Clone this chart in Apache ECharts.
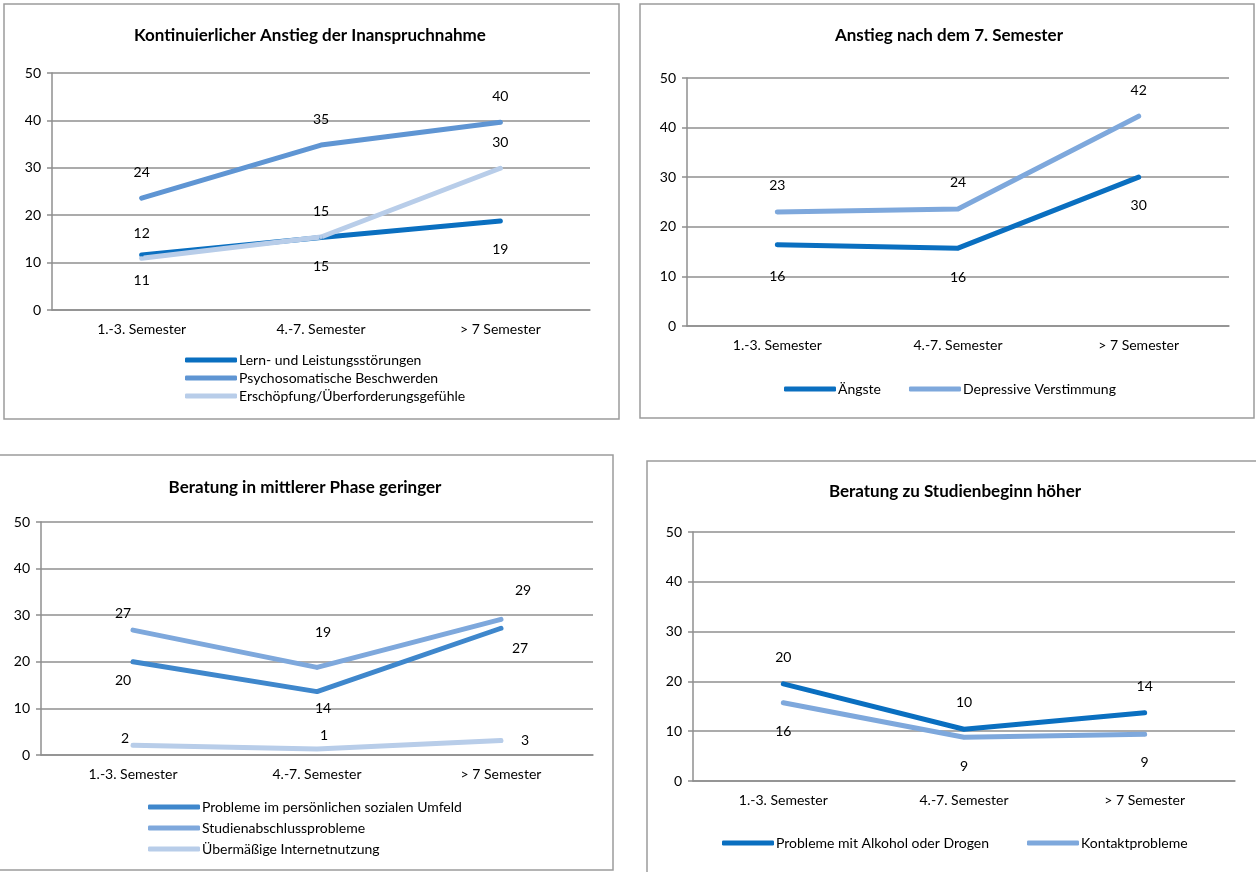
<!DOCTYPE html>
<html>
<head>
    <meta charset="utf-8">
    <script src="https://cdn.jsdelivr.net/npm/echarts@6/dist/echarts.min.js"></script>
    <title>Inanspruchnahme nach Semester</title>
    <style>
        body { margin: 0; background: #fff; }
    </style>
</head>
<body>
    <div id="main" style="width:1256px;height:872px;"></div>
    <script type="text/javascript">
        // categories + values
        var semesters = ['1.-3. Semester', '4.-7. Semester', '> 7 Semester'];

        var lernStoerungen = [11.6, 15.3, 18.8];
        var psychosomatik = [23.6, 34.8, 39.6];
        var erschoepfung = [10.9, 15.4, 29.9];

        var aengste = [16.4, 15.7, 30.0];
        var depressiv = [23.0, 23.6, 42.3];

        var sozialesUmfeld = [20.0, 13.6, 27.2];
        var studienabschluss = [26.8, 18.8, 29.1];
        var internetnutzung = [2.1, 1.3, 3.1];

        var alkoholDrogen = [19.5, 10.4, 13.7];
        var kontaktprobleme = [15.7, 8.8, 9.4];

        var FONT = 'Lato';
        var GRID_COLOR = '#8f8f8f';

        var dark = '#0a6fc0';
        var mid = '#5f95d3';
        var light = '#b8cde9';
        var mid2 = '#3f87cc';
        var soft = '#7ea8dc';

        var myChart = echarts.init(document.getElementById('main'));

        function lineSeries(name, values, color, idx, positions, offsets) {
            return {
                name: name,
                type: 'line',
                xAxisIndex: idx,
                yAxisIndex: idx,
                // labels hang on the symbols, so keep a tiny one hidden under the line
                symbol: 'circle',
                symbolSize: 4,
                silent: true,
                lineStyle: { width: 5, color: color, cap: 'round', join: 'round' },
                itemStyle: { color: color },
                label: {
                    show: true,
                    distance: 20,
                    color: '#000',
                    fontSize: 14,
                    fontFamily: FONT,
                    formatter: function (p) { return Math.round(p.value); }
                },
                data: values.map(function (v, k) {
                    var off = offsets ? offsets[k].slice() : [0, 0];
                    // labels above sit a bit closer to the line than those below
                    if (positions[k] === 'top') off[1] += 3;
                    return {
                        value: v,
                        label: { position: positions[k], offset: off }
                    };
                })
            };
        }

        function xAxis(idx) {
            return {
                gridIndex: idx,
                type: 'category',
                data: semesters,
                axisLine: { lineStyle: { color: GRID_COLOR, width: 1.5 } },
                axisTick: { length: 5, lineStyle: { color: GRID_COLOR, width: 1.5 } },
                axisLabel: { color: '#000', fontSize: 14, fontFamily: FONT, margin: 12 }
            };
        }

        function yAxis(idx) {
            return {
                gridIndex: idx,
                type: 'value',
                min: 0,
                max: 50,
                interval: 10,
                axisLine: { show: true, lineStyle: { color: GRID_COLOR, width: 1.5 } },
                axisTick: { show: true, length: 5, lineStyle: { color: GRID_COLOR, width: 1.5 } },
                splitLine: { lineStyle: { color: GRID_COLOR, width: 1.5 } },
                axisLabel: { color: '#000', fontSize: 14, fontFamily: FONT, margin: 11 }
            };
        }

        function title(text, cx, cy) {
            return {
                text: text,
                left: cx,
                top: cy - 8,
                padding: 0,
                textAlign: 'center',
                textStyle: { fontSize: 17, fontWeight: 'bold', color: '#000', fontFamily: FONT }
            };
        }

        function legend(names, opts) {
            return Object.assign({
                data: names,
                icon: 'roundRect',
                itemWidth: 52,
                itemHeight: 5,
                padding: 0,
                selectedMode: false,
                textStyle: { color: '#000', fontSize: 14, fontFamily: FONT, padding: [0, 0, 0, -3] }
            }, opts);
        }

        function box(x, y, w, h) {
            return {
                type: 'rect',
                shape: { x: x, y: y, width: w, height: h },
                style: { fill: 'none', stroke: '#9c9c9c', lineWidth: 1.5 },
                silent: true
            };
        }

        option = {
            backgroundColor: '#fff',
            animation: false,
            graphic: [
                box(4, 4, 615, 415),
                box(640, 4, 614, 414),
                box(-1, 455, 614, 415),
                box(647, 461, 612, 415)
            ],
            title: [
                title('Kontinuierlicher Anstieg der Inanspruchnahme', 310, 35),
                title('Anstieg nach dem 7. Semester', 949, 35),
                title('Beratung in mittlerer Phase geringer', 305, 487),
                title('Beratung zu Studienbeginn höher', 955, 491)
            ],
            legend: [
                legend(['Lern- und Leistungsstörungen', 'Psychosomatische Beschwerden', 'Erschöpfung/Überforderungsgefühle'],
                    { orient: 'vertical', left: 185, top: 353, itemGap: 4 }),
                legend(['Ängste', 'Depressive Verstimmung'],
                    { orient: 'horizontal', left: 784, top: 382, itemGap: 28 }),
                legend(['Probleme im persönlichen sozialen Umfeld', 'Studienabschlussprobleme', 'Übermäßige Internetnutzung'],
                    { orient: 'vertical', left: 148, top: 800, itemGap: 7 }),
                legend(['Probleme mit Alkohol oder Drogen', 'Kontaktprobleme'],
                    { orient: 'horizontal', left: 722, top: 836, itemGap: 38 })
            ],
            grid: [
                { left: 52, top: 73, width: 538, height: 237 },
                { left: 687, top: 78, width: 542, height: 248 },
                { left: 41, top: 522, width: 552, height: 233 },
                { left: 693, top: 532, width: 542, height: 249 }
            ],
            xAxis: [xAxis(0), xAxis(1), xAxis(2), xAxis(3)],
            yAxis: [yAxis(0), yAxis(1), yAxis(2), yAxis(3)],
            series: [
                lineSeries('Lern- und Leistungsstörungen', lernStoerungen, dark, 0, ['top', 'bottom', 'bottom'], [[0, 4], [0, 0], [0, 0]]),
                lineSeries('Psychosomatische Beschwerden', psychosomatik, mid, 0, ['top', 'top', 'top']),
                lineSeries('Erschöpfung/Überforderungsgefühle', erschoepfung, light, 0, ['bottom', 'top', 'top'], [[0, -7], [0, 0], [0, 0]]),

                lineSeries('Ängste', aengste, dark, 1, ['bottom', 'bottom', 'bottom'], [[0, 3], [0, 0], [0, -1]]),
                lineSeries('Depressive Verstimmung', depressiv, soft, 1, ['top', 'top', 'top']),

                lineSeries('Probleme im persönlichen sozialen Umfeld', sozialesUmfeld, mid2, 2, ['bottom', 'bottom', 'bottom'], [[-10, -10], [6, -12], [19, -9]]),
                lineSeries('Studienabschlussprobleme', studienabschluss, soft, 2, ['top', 'top', 'top'], [[-10, 9], [6, -9], [22, -3]]),
                lineSeries('Übermäßige Internetnutzung', internetnutzung, light, 2, ['top', 'top', 'top'], [[-8, 19], [7, 13], [24, 26]]),

                lineSeries('Probleme mit Alkohol oder Drogen', alkoholDrogen, dark, 3, ['top', 'top', 'top'], [[0, 0], [0, -1], [0, 0]]),
                lineSeries('Kontaktprobleme', kontaktprobleme, soft, 3, ['bottom', 'bottom', 'bottom'], [[0, 0], [0, 0], [0, -1]])
            ]
        };

        myChart.setOption(option);
    </script>
</body>
</html>
